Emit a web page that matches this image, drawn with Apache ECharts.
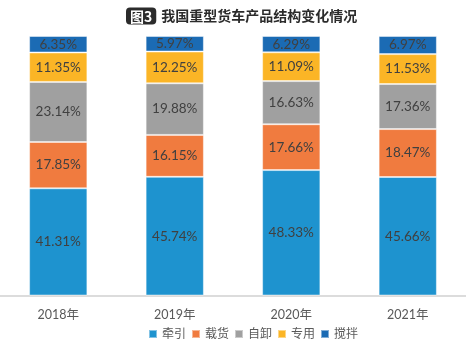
<!DOCTYPE html>
<html>
<head>
<meta charset="utf-8">
<script src="https://cdn.jsdelivr.net/npm/echarts@6/dist/echarts.min.js"></script>
<style>
  html, body { margin: 0; padding: 0; background: #fff; }
  #chart { width: 466px; height: 348px; }
</style>
</head>
<body>
<div id="chart"></div>
<script>
// Heavy truck product mix by year (%)
const years = ['2018年', '2019年', '2020年', '2021年'];
const seriesNames = ['牵引', '载货', '自卸', '专用', '搅拌'];
const tractor = [41.31, 45.74, 48.33, 45.66];
const cargo = [17.85, 16.15, 17.66, 18.47];
const dumper = [23.14, 19.88, 16.63, 17.36];
const special = [11.35, 12.25, 11.09, 11.53];
const mixer = [6.35, 5.97, 6.29, 6.97];

const values = [tractor, cargo, dumper, special, mixer];
const colors = ['#1E93CF', '#F07B3F', '#A0A0A0', '#FBB526', '#1B6BB4'];
const font = "Lato, 'Noto Sans CJK SC', sans-serif";

const chart = echarts.init(document.getElementById('chart'));
chart.setOption({
  animation: false,
  title: {
    text: '{tag|图3} {main|我国重型货车产品结构变化情况}',
    left: 121,
    top: 2,
    textStyle: {
      rich: {
        tag: {
          backgroundColor: '#2B2B2B',
          color: '#fff',
          borderRadius: 4,
          padding: [2, 4, 1, 4],
          fontSize: 14,
          fontWeight: 'bold',
          fontFamily: "'Noto Sans CJK SC', sans-serif"
        },
        main: {
          color: '#2B2B2B',
          fontSize: 14,
          fontWeight: 'bold',
          fontFamily: "'Noto Sans CJK SC', sans-serif"
        }
      }
    }
  },
  legend: {
    data: seriesNames,
    bottom: 8,
    left: 148,
    padding: 0,
    icon: 'rect',
    itemWidth: 8,
    itemHeight: 8,
    itemGap: 5,
    textStyle: { color: '#595959', fontSize: 12, fontFamily: font }
  },
  grid: { left: -6.6, right: -10, top: 36, bottom: 52.5, containLabel: false },
  xAxis: {
    type: 'category',
    data: years,
    axisLine: { lineStyle: { color: '#D0D0D0', width: 1.5 } },
    axisTick: { show: false },
    axisLabel: { color: '#595959', fontSize: 12.5, margin: 13, fontFamily: font }
  },
  yAxis: {
    type: 'value',
    min: 0,
    max: 100,
    show: false,
    splitLine: { show: false }
  },
  series: seriesNames.map((name, i) => ({
    name,
    type: 'bar',
    stack: 'total',
    barWidth: '50%',
    data: values[i],
    itemStyle: { color: colors[i], borderColor: 'rgba(255,255,255,0.45)', borderWidth: 1 },
    label: {
      show: true,
      position: 'inside',
      formatter: p => p.value.toFixed(2) + '%',
      color: '#404040',
      fontSize: 13.5,
      fontFamily: font
    }
  }))
});
</script>
</body>
</html>
